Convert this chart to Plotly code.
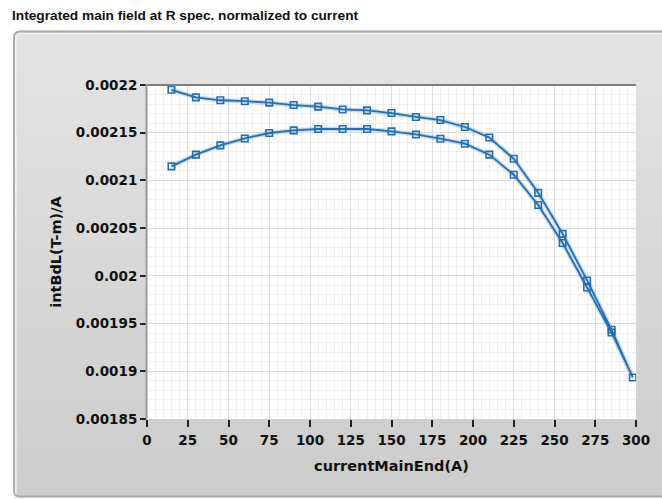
import plotly.graph_objects as go

# Ramp up / ramp down of the main end current (A) and the integrated field per amp
current_up = [15, 30, 45, 60, 75, 90, 105, 120, 135, 150, 165, 180, 195, 210,
              225, 240, 255, 270, 285, 298]
field_up = [0.0021147, 0.002127, 0.0021367, 0.002144, 0.0021497, 0.0021524,
            0.0021539, 0.0021539, 0.0021539, 0.0021514, 0.0021482, 0.0021437,
            0.0021385, 0.002127, 0.002106, 0.0020742, 0.0020344, 0.0019878,
            0.0019407, 0.0018935]
current_down = [285, 270, 255, 240, 225, 210, 195, 180, 165, 150, 135, 120,
                105, 90, 75, 60, 45, 30, 15]
field_down = [0.0019435, 0.0019952, 0.002044, 0.002087, 0.0021227, 0.002145,
              0.002156, 0.0021633, 0.0021665, 0.0021706, 0.0021734, 0.0021744,
              0.0021773, 0.002179, 0.0021815, 0.002183, 0.002184, 0.002187,
              0.002195]

x_ticks = [0, 25, 50, 75, 100, 125, 150, 175, 200, 225, 250, 275, 300]
y_ticks = [0.00185, 0.0019, 0.00195, 0.002, 0.00205, 0.0021, 0.00215, 0.0022]
y_tick_text = ["0.00185", "0.0019", "0.00195", "0.002", "0.00205", "0.0021",
               "0.00215", "0.0022"]

x_all = current_up + current_down
y_all = field_up + field_down

W, H = 662, 499
L, R, T, B = 147, 638, 85, 419


def px(xp):
    return (xp - L) / (R - L)


def py(yp):
    return (B - yp) / (B - T)


fig = go.Figure()
# soft halo under the line
fig.add_trace(go.Scatter(x=x_all, y=y_all, mode="lines",
                         line=dict(color="rgba(40,120,190,0.25)", width=4.5),
                         hoverinfo="skip", showlegend=False))
fig.add_trace(go.Scatter(x=x_all, y=y_all, mode="lines+markers",
                         line=dict(color="#2270b2", width=1.8),
                         marker=dict(symbol="square-open", size=6.5,
                                     color="#2270b2",
                                     line=dict(color="#2270b2", width=1.6)),
                         showlegend=False))

shapes = []
# panel gradient
top_p, bot_p = 31, 497
n = 40
c0, c1 = 0xe4, 0xcc
for i in range(n):
    y0 = top_p + (bot_p - top_p) * i / n
    y1 = top_p + (bot_p - top_p) * (i + 1) / n
    c = round(c0 + (c1 - c0) * (i + 0.5) / n)
    shapes.append(dict(type="rect", xref="paper", yref="paper", layer="below",
                       x0=px(15), x1=px(670), y0=py(y1 + 0.5), y1=py(y0),
                       line=dict(width=0),
                       fillcolor=f"rgb({c},{c},{c})"))
# panel border (rounded top-left / bottom-left)
r = 6
xl, xr, yt, yb = 13.5, 680, 31.5, 496.5
path = (f"M {px(xr)},{py(yt)} L {px(xl + r)},{py(yt)} "
        f"Q {px(xl)},{py(yt)} {px(xl)},{py(yt + r)} "
        f"L {px(xl)},{py(yb - r)} Q {px(xl)},{py(yb)} {px(xl + r)},{py(yb)} "
        f"L {px(xr)},{py(yb)}")
shapes.append(dict(type="path", xref="paper", yref="paper", layer="below",
                   path=path, line=dict(color="#a9a9a9", width=2)))
path2 = (f"M {px(xr)},{py(yt + 2)} L {px(xl + r + 1)},{py(yt + 2)} "
         f"Q {px(xl + 2)},{py(yt + 2)} {px(xl + 2)},{py(yt + r + 1)} "
         f"L {px(xl + 2)},{py(yb - 2)}")
shapes.append(dict(type="path", xref="paper", yref="paper", layer="below",
                   path=path2, line=dict(color="#f4f4f4", width=1)))
# white plot area
shapes.append(dict(type="rect", xref="paper", yref="paper", layer="below",
                   x0=0, x1=1, y0=0, y1=1, line=dict(width=0),
                   fillcolor="white"))
# sunken frame: top and left edges
shapes.append(dict(type="line", xref="paper", yref="paper",
                   x0=px(146), x1=1, y0=py(85), y1=py(85),
                   line=dict(color="#7f7f7f", width=2)))
shapes.append(dict(type="line", xref="paper", yref="paper",
                   x0=px(146.5), x1=px(146.5), y0=0, y1=py(84),
                   line=dict(color="#9a9a9a", width=2)))

tick_font = dict(family="DejaVu Sans", size=13.5, color="#111111")
title_font = dict(family="DejaVu Sans", size=14.5, color="#111111")

fig.update_layout(
    width=W, height=H,
    margin=dict(l=L, r=W - R, t=T, b=H - B),
    paper_bgcolor="white",
    plot_bgcolor="white",
    shapes=shapes,
    annotations=[dict(text="<b>Integrated main field at R spec. normalized to current</b>",
                      xref="paper", yref="paper", x=px(9), y=py(15),
                      xanchor="left", yanchor="middle", showarrow=False,
                      font=dict(family="Liberation Sans", size=13.7,
                                color="#111111"))],
    xaxis=dict(range=[0, 300], tickvals=x_ticks,
               ticktext=[f"<b>{t}</b>" for t in x_ticks],
               ticks="outside", ticklen=7, ticklabelstandoff=2,
               tickwidth=1.5, tickcolor="#222222",
               tickfont=tick_font, showline=False, zeroline=False,
               showgrid=True, gridcolor="#dedede", gridwidth=1,
               minor=dict(dtick=5, showgrid=True, gridcolor="#f0f0f0",
                          gridwidth=1),
               title=dict(text="<b>currentMainEnd(A)</b>", font=title_font,
                          standoff=13)),
    yaxis=dict(range=[0.00185, 0.0022], tickvals=y_ticks,
               ticktext=[f"<b>{t}</b>" for t in y_tick_text],
               ticks="outside", ticklen=6, tickwidth=1.5, tickcolor="#222222",
               tickfont=tick_font, showline=False, zeroline=False,
               showgrid=True, gridcolor="#dedede", gridwidth=1,
               minor=dict(dtick=0.00001, showgrid=True, gridcolor="#f0f0f0",
                          gridwidth=1),
               title=dict(text="<b>intBdL(T-m)/A</b>", font=title_font,
                          standoff=10)),
)

fig.write_html("out.html")
